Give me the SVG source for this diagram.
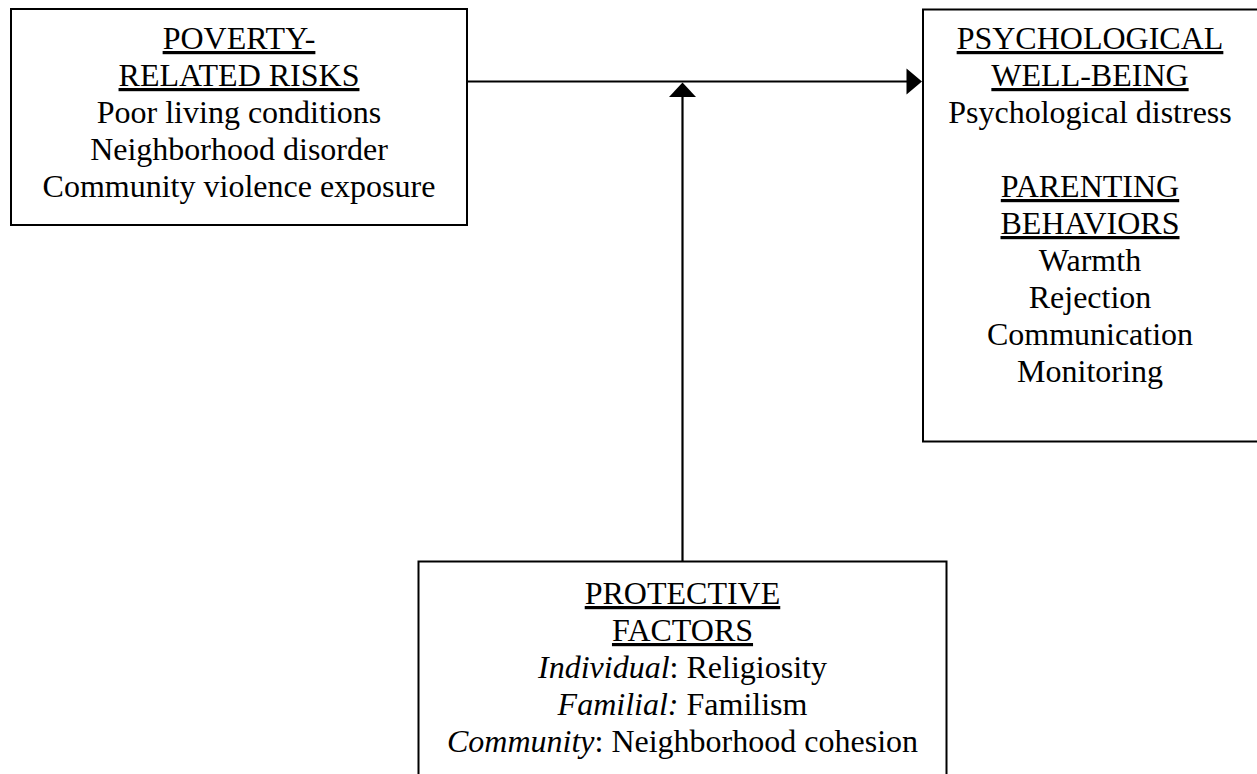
<svg xmlns="http://www.w3.org/2000/svg" width="1257" height="774" viewBox="0 0 1257 774">
<style>
.box{fill:#fff;stroke:#000;stroke-width:2}
.t{font-family:"Liberation Serif","Times New Roman",serif;font-size:32px;fill:#000;text-anchor:middle}
.u{text-decoration:underline}
.i{font-style:italic}
.c{stroke:#000;stroke-width:2.2;fill:none}
</style>
<rect width="1257" height="774" fill="#fff"/>
<g id="node-poverty">
<rect class="box" x="11" y="9" width="456" height="216"/>
<text class="t u" x="239" y="49">POVERTY-</text>
<text class="t u" x="239" y="86">RELATED RISKS</text>
<text class="t" x="239" y="123">Poor living conditions</text>
<text class="t" x="239" y="160">Neighborhood disorder</text>
<text class="t" x="239" y="197">Community violence exposure</text>
</g>
<g id="node-outcomes">
<rect class="box" x="923" y="9.5" width="400" height="432"/>
<text class="t u" x="1090" y="49">PSYCHOLOGICAL</text>
<text class="t u" x="1090" y="86">WELL-BEING</text>
<text class="t" x="1090" y="123">Psychological distress</text>
<text class="t u" x="1090" y="197">PARENTING</text>
<text class="t u" x="1090" y="234">BEHAVIORS</text>
<text class="t" x="1090" y="271">Warmth</text>
<text class="t" x="1090" y="308">Rejection</text>
<text class="t" x="1090" y="345">Communication</text>
<text class="t" x="1090" y="382">Monitoring</text>
</g>
<g id="node-protective">
<rect class="box" x="418.5" y="561.5" width="528" height="300"/>
<text class="t u" x="682.5" y="604">PROTECTIVE</text>
<text class="t u" x="682.5" y="641">FACTORS</text>
<text class="t" x="682.5" y="678"><tspan class="i">Individual</tspan>: Religiosity</text>
<text class="t" x="682.5" y="715"><tspan class="i">Familial:</tspan> Familism</text>
<text class="t" x="682.5" y="752"><tspan class="i">Community</tspan>: Neighborhood cohesion</text>
</g>
<g id="connectors">
<line class="c" x1="467" y1="81.5" x2="908" y2="81.5"/>
<polygon points="906.5,68.5 922,81.5 906.5,94.5" fill="#000"/>
<line class="c" x1="682.5" y1="96" x2="682.5" y2="561"/>
<polygon points="669,97 696,97 682.5,82.5" fill="#000"/>
</g>
</svg>
